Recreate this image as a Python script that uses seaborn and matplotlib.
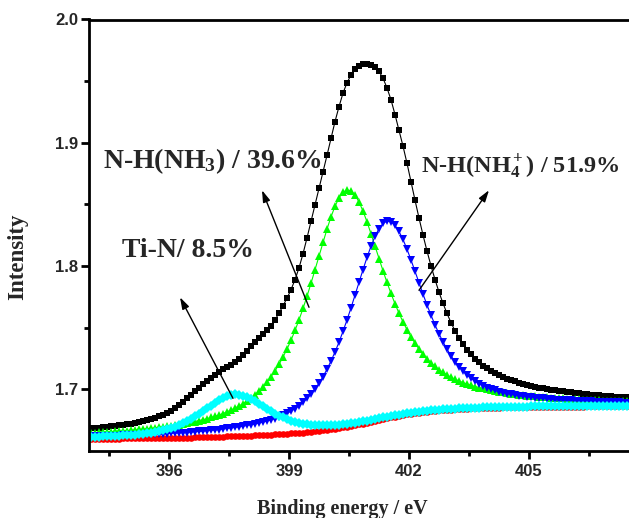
import matplotlib
matplotlib.use("Agg")
import matplotlib.pyplot as plt
from matplotlib.ticker import FixedLocator
import seaborn as sns

# ---------------- data ----------------
energy = [
    394.05, 394.15, 394.25, 394.35, 394.45, 394.55, 394.65, 394.75, 394.85, 394.95,
    395.05, 395.15, 395.25, 395.35, 395.45, 395.55, 395.65, 395.75, 395.85, 395.95,
    396.05, 396.15, 396.25, 396.35, 396.45, 396.55, 396.65, 396.75, 396.85, 396.95,
    397.05, 397.15, 397.25, 397.35, 397.45, 397.55, 397.65, 397.75, 397.85, 397.95,
    398.05, 398.15, 398.25, 398.35, 398.45, 398.55, 398.65, 398.75, 398.85, 398.95,
    399.05, 399.15, 399.25, 399.35, 399.45, 399.55, 399.65, 399.75, 399.85, 399.95,
    400.05, 400.15, 400.25, 400.35, 400.45, 400.55, 400.65, 400.75, 400.85, 400.95,
    401.05, 401.15, 401.25, 401.35, 401.45, 401.55, 401.65, 401.75, 401.85, 401.95,
    402.05, 402.15, 402.25, 402.35, 402.45, 402.55, 402.65, 402.75, 402.85, 402.95,
    403.05, 403.15, 403.25, 403.35, 403.45, 403.55, 403.65, 403.75, 403.85, 403.95,
    404.05, 404.15, 404.25, 404.35, 404.45, 404.55, 404.65, 404.75, 404.85, 404.95,
    405.05, 405.15, 405.25, 405.35, 405.45, 405.55, 405.65, 405.75, 405.85, 405.95,
    406.05, 406.15, 406.25, 406.35, 406.45, 406.55, 406.65, 406.75, 406.85, 406.95,
    407.05, 407.15, 407.25, 407.35, 407.45,
]

envelope = [
    1.6683, 1.6685, 1.6688, 1.6692, 1.6695, 1.6699, 1.6703, 1.6707, 1.6713, 1.6717,
    1.6723, 1.6728, 1.6736, 1.6742, 1.6751, 1.6759, 1.6768, 1.6780, 1.6792, 1.6806,
    1.6826, 1.6849, 1.6872, 1.6899, 1.6926, 1.6955, 1.6985, 1.7015, 1.7041, 1.7066,
    1.7092, 1.7118, 1.7141, 1.7163, 1.7183, 1.7201, 1.7219, 1.7245, 1.7276, 1.7315,
    1.7350, 1.7382, 1.7413, 1.7445, 1.7479, 1.7517, 1.7564, 1.7618, 1.7677, 1.7740,
    1.7808, 1.7890, 1.7985, 1.8100, 1.8228, 1.8362, 1.8497, 1.8630, 1.8764, 1.8898,
    1.9036, 1.9172, 1.9293, 1.9403, 1.9487, 1.9550, 1.9597, 1.9625, 1.9637, 1.9640,
    1.9633, 1.9614, 1.9579, 1.9524, 1.9445, 1.9349, 1.9229, 1.9100, 1.8973, 1.8834,
    1.8684, 1.8535, 1.8390, 1.8252, 1.8122, 1.8002, 1.7891, 1.7789, 1.7698, 1.7616,
    1.7541, 1.7475, 1.7418, 1.7367, 1.7322, 1.7284, 1.7248, 1.7219, 1.7193, 1.7170,
    1.7150, 1.7132, 1.7115, 1.7101, 1.7087, 1.7076, 1.7065, 1.7055, 1.7046, 1.7037,
    1.7030, 1.7023, 1.7015, 1.7010, 1.7004, 1.6998, 1.6992, 1.6987, 1.6983, 1.6978,
    1.6975, 1.6971, 1.6967, 1.6963, 1.6960, 1.6958, 1.6954, 1.6952, 1.6949, 1.6947,
    1.6944, 1.6941, 1.6939, 1.6937, 1.6935,
]

background = [
    1.6600, 1.6600, 1.6600, 1.6601, 1.6601, 1.6601, 1.6601, 1.6601, 1.6602, 1.6602,
    1.6602, 1.6602, 1.6603, 1.6603, 1.6604, 1.6604, 1.6604, 1.6605, 1.6605, 1.6606,
    1.6606, 1.6607, 1.6607, 1.6608, 1.6608, 1.6609, 1.6610, 1.6611, 1.6611, 1.6612,
    1.6613, 1.6614, 1.6615, 1.6616, 1.6618, 1.6619, 1.6620, 1.6621, 1.6622, 1.6624,
    1.6625, 1.6626, 1.6628, 1.6629, 1.6631, 1.6632, 1.6634, 1.6636, 1.6638, 1.6640,
    1.6642, 1.6645, 1.6647, 1.6650, 1.6653, 1.6656, 1.6660, 1.6663, 1.6667, 1.6671,
    1.6676, 1.6681, 1.6686, 1.6692, 1.6697, 1.6703, 1.6710, 1.6716, 1.6723, 1.6730,
    1.6737, 1.6744, 1.6751, 1.6758, 1.6765, 1.6772, 1.6778, 1.6784, 1.6791, 1.6797,
    1.6802, 1.6807, 1.6811, 1.6815, 1.6819, 1.6823, 1.6826, 1.6829, 1.6831, 1.6834,
    1.6836, 1.6838, 1.6840, 1.6842, 1.6843, 1.6845, 1.6846, 1.6847, 1.6848, 1.6850,
    1.6851, 1.6852, 1.6852, 1.6853, 1.6853, 1.6854, 1.6855, 1.6855, 1.6856, 1.6856,
    1.6857, 1.6857, 1.6857, 1.6858, 1.6858, 1.6858, 1.6858, 1.6859, 1.6859, 1.6859,
    1.6860, 1.6860, 1.6860, 1.6860, 1.6861, 1.6861, 1.6861, 1.6861, 1.6861, 1.6862,
    1.6862, 1.6862, 1.6862, 1.6862, 1.6863,
]

ti_n = [
    1.6615, 1.6615, 1.6616, 1.6618, 1.6619, 1.6620, 1.6622, 1.6623, 1.6626, 1.6627,
    1.6630, 1.6632, 1.6636, 1.6639, 1.6644, 1.6648, 1.6653, 1.6660, 1.6668, 1.6677,
    1.6686, 1.6698, 1.6711, 1.6726, 1.6742, 1.6760, 1.6780, 1.6801, 1.6823, 1.6846,
    1.6869, 1.6892, 1.6913, 1.6931, 1.6946, 1.6956, 1.6960, 1.6958, 1.6950, 1.6939,
    1.6923, 1.6904, 1.6884, 1.6863, 1.6843, 1.6822, 1.6804, 1.6787, 1.6772, 1.6758,
    1.6746, 1.6736, 1.6727, 1.6721, 1.6716, 1.6711, 1.6709, 1.6707, 1.6707, 1.6707,
    1.6709, 1.6711, 1.6714, 1.6717, 1.6721, 1.6725, 1.6731, 1.6735, 1.6741, 1.6747,
    1.6753, 1.6759, 1.6766, 1.6772, 1.6778, 1.6785, 1.6790, 1.6795, 1.6802, 1.6807,
    1.6812, 1.6817, 1.6820, 1.6824, 1.6827, 1.6831, 1.6834, 1.6836, 1.6838, 1.6841,
    1.6843, 1.6844, 1.6846, 1.6848, 1.6849, 1.6851, 1.6851, 1.6852, 1.6853, 1.6855,
    1.6856, 1.6857, 1.6857, 1.6858, 1.6858, 1.6859, 1.6859, 1.6859, 1.6860, 1.6860,
    1.6861, 1.6861, 1.6861, 1.6862, 1.6862, 1.6862, 1.6862, 1.6862, 1.6862, 1.6862,
    1.6863, 1.6863, 1.6863, 1.6863, 1.6864, 1.6864, 1.6864, 1.6864, 1.6864, 1.6865,
    1.6865, 1.6865, 1.6865, 1.6865, 1.6865,
]

nh3 = [
    1.6648, 1.6650, 1.6651, 1.6654, 1.6655, 1.6657, 1.6659, 1.6661, 1.6664, 1.6666,
    1.6669, 1.6671, 1.6675, 1.6677, 1.6681, 1.6684, 1.6687, 1.6692, 1.6695, 1.6700,
    1.6704, 1.6710, 1.6714, 1.6720, 1.6725, 1.6732, 1.6739, 1.6747, 1.6754, 1.6762,
    1.6772, 1.6782, 1.6792, 1.6804, 1.6818, 1.6832, 1.6848, 1.6865, 1.6884, 1.6907,
    1.6931, 1.6957, 1.6988, 1.7021, 1.7060, 1.7102, 1.7150, 1.7203, 1.7262, 1.7327,
    1.7398, 1.7478, 1.7563, 1.7656, 1.7755, 1.7860, 1.7970, 1.8081, 1.8192, 1.8300,
    1.8399, 1.8485, 1.8553, 1.8599, 1.8617, 1.8610, 1.8577, 1.8520, 1.8446, 1.8359,
    1.8262, 1.8162, 1.8061, 1.7962, 1.7867, 1.7778, 1.7694, 1.7617, 1.7547, 1.7484,
    1.7426, 1.7374, 1.7327, 1.7285, 1.7248, 1.7215, 1.7186, 1.7160, 1.7137, 1.7117,
    1.7098, 1.7082, 1.7068, 1.7055, 1.7043, 1.7033, 1.7023, 1.7015, 1.7007, 1.7000,
    1.6994, 1.6988, 1.6981, 1.6976, 1.6970, 1.6966, 1.6962, 1.6958, 1.6954, 1.6950,
    1.6947, 1.6944, 1.6940, 1.6938, 1.6935, 1.6932, 1.6930, 1.6928, 1.6926, 1.6923,
    1.6922, 1.6920, 1.6918, 1.6916, 1.6915, 1.6914, 1.6912, 1.6911, 1.6909, 1.6909,
    1.6907, 1.6906, 1.6905, 1.6904, 1.6903,
]

nh4 = [
    1.6620, 1.6620, 1.6621, 1.6622, 1.6623, 1.6624, 1.6624, 1.6625, 1.6627, 1.6628,
    1.6628, 1.6629, 1.6631, 1.6632, 1.6634, 1.6635, 1.6636, 1.6638, 1.6639, 1.6641,
    1.6643, 1.6645, 1.6646, 1.6649, 1.6650, 1.6653, 1.6656, 1.6659, 1.6661, 1.6664,
    1.6667, 1.6670, 1.6674, 1.6678, 1.6683, 1.6687, 1.6691, 1.6696, 1.6701, 1.6707,
    1.6713, 1.6719, 1.6727, 1.6734, 1.6743, 1.6752, 1.6763, 1.6775, 1.6789, 1.6805,
    1.6823, 1.6844, 1.6867, 1.6895, 1.6926, 1.6962, 1.7004, 1.7050, 1.7103, 1.7163,
    1.7230, 1.7303, 1.7383, 1.7471, 1.7563, 1.7661, 1.7764, 1.7867, 1.7971, 1.8070,
    1.8162, 1.8241, 1.8304, 1.8346, 1.8365, 1.8360, 1.8331, 1.8281, 1.8216, 1.8137,
    1.8050, 1.7958, 1.7865, 1.7773, 1.7685, 1.7602, 1.7523, 1.7451, 1.7385, 1.7326,
    1.7272, 1.7225, 1.7184, 1.7148, 1.7116, 1.7090, 1.7066, 1.7046, 1.7029, 1.7015,
    1.7002, 1.6991, 1.6981, 1.6973, 1.6965, 1.6959, 1.6954, 1.6948, 1.6944, 1.6939,
    1.6936, 1.6932, 1.6928, 1.6926, 1.6923, 1.6920, 1.6917, 1.6915, 1.6913, 1.6911,
    1.6910, 1.6908, 1.6906, 1.6904, 1.6903, 1.6902, 1.6900, 1.6899, 1.6898, 1.6897,
    1.6896, 1.6895, 1.6894, 1.6893, 1.6893,
]

x_major_ticks = [396, 399, 402, 405]
x_minor_ticks = [394.5, 397.5, 400.5, 403.5, 406.5]
y_major_ticks = [1.7, 1.8, 1.9, 2.0]
y_minor_ticks = [1.75, 1.85, 1.95]

label_nh3 = "N-H(NH$_3$) / 39.6%"
label_nh4 = "N-H(NH$_4^+$) / 51.9%"
label_tin = "Ti-N/ 8.5%"

# ---------------- style ----------------
sns.set_style("ticks")
plt.rcParams["font.family"] = ["Liberation Sans", "DejaVu Sans"]
plt.rcParams["mathtext.fontset"] = "custom"
plt.rcParams["mathtext.rm"] = "Liberation Serif:bold"
plt.rcParams["mathtext.it"] = "Liberation Serif:bold"
plt.rcParams["mathtext.bf"] = "Liberation Serif:bold"

W, H = 629, 518
fig = plt.figure(figsize=(W / 100, H / 100), dpi=100)
L, R, T, B = 89, 629, 19.5, 451
ax = fig.add_axes([L / W, 1 - B / H, (R - L) / W, (B - T) / H])

# series, drawn in order
series = [
    (envelope, "black", "s", 4.2),
    (background, "#ff0000", "o", 4.8),
    (nh3, "#00ff00", "^", 5.2),
    (nh4, "#0000ff", "v", 5.2),
    (ti_n, "#00ffff", "D", 5.0),
]
for vals, col, mk, ms in series:
    sns.lineplot(x=energy, y=vals, ax=ax, color=col, marker=mk, markersize=ms,
                 markeredgewidth=0, linewidth=0.8, legend=False, sort=False)

ax.set_xlim(394.0, 407.5)
ax.set_ylim(1.65, 2.0)

ax.xaxis.set_major_locator(FixedLocator(x_major_ticks))
ax.xaxis.set_minor_locator(FixedLocator(x_minor_ticks))
ax.yaxis.set_major_locator(FixedLocator(y_major_ticks))
ax.yaxis.set_minor_locator(FixedLocator(y_minor_ticks))
ax.set_xticklabels([str(v) for v in x_major_ticks])
ax.set_yticklabels([f"{v:.1f}" for v in y_major_ticks])

for s in ["left", "bottom", "top"]:
    ax.spines[s].set_linewidth(2.0)
    ax.spines[s].set_color("black")
ax.spines["right"].set_visible(False)

ax.tick_params(axis="both", which="major", direction="out", length=5.5, width=2.0,
               color="black", labelsize=12, pad=4)
ax.tick_params(axis="both", which="minor", direction="out", length=3.5, width=2.0,
               color="black")
ax.tick_params(axis="y", which="major", pad=2)
for lab in ax.get_xticklabels() + ax.get_yticklabels():
    lab.set_fontweight("bold")
    lab.set_family(["Liberation Sans", "DejaVu Sans"])
ax.set_xlabel("")
ax.set_ylabel("")

serif = ["Liberation Serif", "DejaVu Serif"]
fig.text(342 / W, 1 - 514 / H, "Binding energy / eV", ha="center", va="baseline",
         fontsize=14.5, fontweight="bold", family=serif)
fig.text(18 / W, 1 - 257 / H, "Intensity", ha="center", va="center", rotation=90,
         fontsize=16.5, fontweight="bold", family=serif)


def px2data(px, py):
    return 394.0 + (px - L) / 40.0, 1.7 + (389.0 - py) / 1232.0


def arrow(p_tail, p_head):
    ax.annotate("", xy=px2data(*p_head), xytext=px2data(*p_tail),
                arrowprops=dict(arrowstyle="-|>,head_length=0.7,head_width=0.22",
                                color="black", lw=1.0, shrinkA=0, shrinkB=0))


arrow((233, 398), (180, 297))
arrow((309, 307), (262, 190))
arrow((419, 290), (489, 190))

fig.text(103 / W, 1 - 168 / H, label_nh3, ha="left", va="baseline",
         fontsize=20, fontweight="bold", family=serif)
fig.text(122 / W, 1 - 257 / H, label_tin, ha="left", va="baseline",
         fontsize=20, fontweight="bold", family=serif)
fig.text(421 / W, 1 - 173 / H, label_nh4, ha="left", va="baseline",
         fontsize=17.5, fontweight="bold", family=serif)

fig.savefig("out.png", dpi=100)
